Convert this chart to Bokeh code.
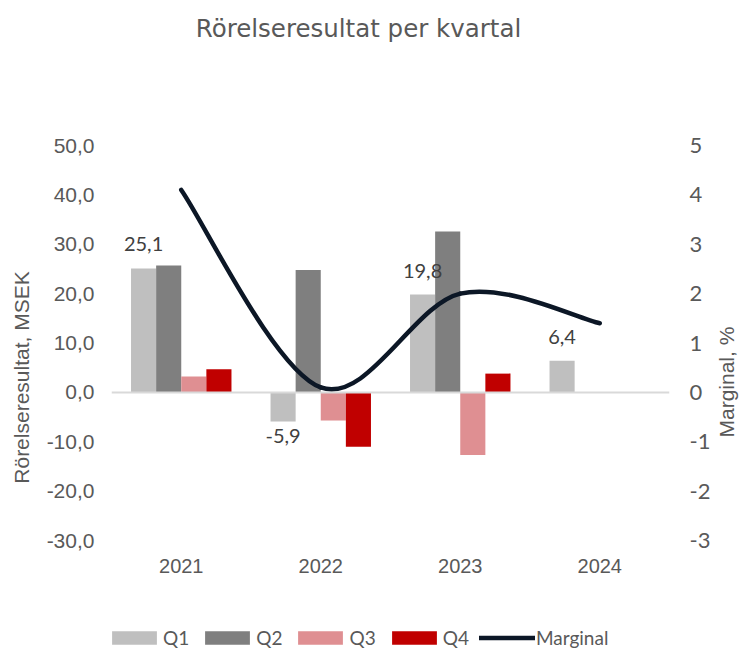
import numpy as np
from bokeh.plotting import figure
from bokeh.models import (Range1d, LinearAxis, FixedTicker, Span, Legend,
                          LegendItem, ColumnDataSource, Label)
from bokeh.core.properties import value
from bokeh.embed import file_html
from bokeh.resources import INLINE

# ---- data ----
years = ["2021", "2022", "2023", "2024"]
quarters = ["Q1", "Q2", "Q3", "Q4"]
q1 = [25.1, -5.9, 19.8, 6.4]
q2 = [25.7, 24.8, 32.6, None]
q3 = [3.2, -5.7, -12.7, None]
q4 = [4.7, -11.0, 3.8, None]
marginal = [4.1, 0.1, 2.0, 1.4]
left_ticks = [-30, -20, -10, 0, 10, 20, 30, 40, 50]
right_ticks = [-3, -2, -1, 0, 1, 2, 3, 4, 5]
labelled = {0: 25.1, 1: -5.9, 2: 19.8, 3: 6.4}  # Q1 data labels

colors = ["#bfbfbf", "#7f7f7f", "#df8f92", "#c00000"]
line_color = "#0c1726"
text_col = "#595959"
NB = "\u00a0"

# ---- layout (pixels) ----
W, H = 744, 649
plot_top, plot_bottom = 145, 540          # where 50 and -30 sit
ppu = (plot_bottom - plot_top) / (left_ticks[-1] - left_ticks[0])
y_lo = left_ticks[0] - (H - plot_bottom) / ppu
y_hi = left_ticks[-1] + plot_top / ppu

p = figure(frame_width=558, frame_height=H, output_backend="svg", toolbar_location=None,
           x_range=Range1d(-0.5, 3.5), y_range=Range1d(y_lo, y_hi),
           min_border_left=111, min_border_right=75, min_border_top=0,
           min_border_bottom=0)
p.outline_line_color = None
p.grid.visible = False
p.background_fill_color = "white"
p.border_fill_color = "white"
p.xaxis.visible = False

# left axis
p.yaxis.ticker = FixedTicker(ticks=left_ticks)
p.yaxis.major_label_overrides = {t: f"{t},0" for t in left_ticks}
p.yaxis.axis_line_color = None
p.yaxis.major_tick_line_color = None
p.yaxis.minor_tick_line_color = None
p.yaxis.major_label_text_color = text_col
p.yaxis.major_label_text_font = "Liberation Sans"
p.yaxis.major_label_text_font_size = "21px"
p.yaxis.major_label_standoff = 11
p.yaxis.axis_label = "Rörelseresultat, MSEK" + NB * 18
p.yaxis.axis_label_text_font = "Liberation Sans"
p.yaxis.axis_label_text_font_size = "21px"
p.yaxis.axis_label_text_font_style = "normal"
p.yaxis.axis_label_text_color = text_col
p.yaxis.axis_label_standoff = 11

# right axis
p.extra_y_ranges = {"r": Range1d(y_lo / 10, y_hi / 10)}
rax = LinearAxis(y_range_name="r", ticker=FixedTicker(ticks=right_ticks),
                 major_label_overrides={t: str(t) for t in right_ticks},
                 axis_line_color=None, major_tick_line_color=None,
                 minor_tick_line_color=None, major_label_text_color=text_col,
                 major_label_text_font="Lato", major_label_text_font_size="22px",
                 major_label_standoff=14)
p.add_layout(rax, "right")

# right axis title, drawn as the single tick label of an outer axis
title_start_px = 437                       # where the rotated title begins
t_val = round((y_hi - title_start_px / ppu) / 10, 3)
tax = LinearAxis(y_range_name="r", ticker=FixedTicker(ticks=[t_val]),
                 major_label_overrides={t_val: "Marginal, %"},
                 axis_line_color=None, major_tick_line_color=None,
                 minor_tick_line_color=None, major_label_text_color=text_col,
                 major_label_text_font="Liberation Sans",
                 major_label_text_font_size="21px", major_label_standoff=7,
                 major_label_orientation=np.pi / 2)
p.add_layout(tax, "right")

# zero line
p.add_layout(Span(location=0, dimension="width", line_color="#d9d9d9", line_width=2))

# category labels under the plot
ysrc = ColumnDataSource(dict(x=list(range(len(years))), t=years,
                             y=[left_ticks[0]] * len(years)))
p.text(x="x", y="y", text="t", source=ysrc, y_offset=25, text_align="center",
       text_baseline="middle", text_font_size="20px", text_color=text_col,
       text_font=value("Liberation Sans"))

# bars
offsets = [-0.27, -0.09, 0.09, 0.27]
series = [q1, q2, q3, q4]
renderers = []
for vals, c, off in zip(series, colors, offsets):
    xs = [i + off for i, v in enumerate(vals) if v is not None]
    ys = [v for v in vals if v is not None]
    r = p.vbar(x=xs, top=ys, bottom=0, width=0.18, fill_color=c, line_color=None)
    renderers.append(r)

# smoothed line (Catmull-Rom style Bezier as in Excel)
xm = np.arange(len(marginal), dtype=float)
ym = np.array(marginal) * 10.0  # right axis maps onto left axis x10
n = len(xm)
def pt(i):
    i = min(max(i, 0), n - 1)
    return xm[i], ym[i]
x0s, y0s, x1s, y1s, cx0s, cy0s, cx1s, cy1s = ([] for _ in range(8))
for i in range(n - 1):
    pa, pb, pc, pd = pt(i - 1), pt(i), pt(i + 1), pt(i + 2)
    x0s.append(pb[0]); y0s.append(pb[1]); x1s.append(pc[0]); y1s.append(pc[1])
    cx0s.append(pb[0] + (pc[0] - pa[0]) / 6); cy0s.append(pb[1] + (pc[1] - pa[1]) / 6)
    cx1s.append(pc[0] - (pd[0] - pb[0]) / 6); cy1s.append(pc[1] - (pd[1] - pb[1]) / 6)
p.bezier(x0=x0s, y0=y0s, x1=x1s, y1=y1s, cx0=cx0s, cy0=cy0s, cx1=cx1s, cy1=cy1s,
         line_color=line_color, line_width=4.5, line_cap="round")
leg_line = p.line(x=[0, 0], y=[0, 0], line_color=line_color, line_width=4.5,
                  line_cap="round", visible=False)

# data labels
lx = [i + offsets[0] for i in labelled]
lv = list(labelled.values())
ltxt = [f"{v:.1f}".replace(".", ",") for v in lv]
loff = [-24 if v >= 0 else 14 for v in lv]
src = ColumnDataSource(dict(x=lx, y=lv, t=ltxt, o=loff))
p.text(x="x", y="y", text="t", y_offset="o", source=src, text_align="center",
       text_baseline="middle", text_font_size="20px", text_color="#404040",
       text_font=value("Lato"))

# title
p.add_layout(Label(x=247, y=H - 28, x_units="screen", y_units="screen",
                   text="Rörelseresultat per kvartal", text_font="DejaVu Sans",
                   text_font_size="24.5px", text_color=text_col, text_align="center",
                   text_baseline="middle"))

# legend
items = [LegendItem(label=q, renderers=[r]) for q, r in zip(quarters, renderers)]
items.append(LegendItem(label="Marginal", renderers=[leg_line]))
legend = Legend(items=items, orientation="horizontal", location=(-5, 0),
                glyph_width=56, glyph_height=17, label_standoff=1, spacing=10,
                padding=0, margin=0, border_line_color=None,
                background_fill_alpha=0, label_text_font="Lato",
                label_text_font_size="19px", label_text_color=text_col)
p.add_layout(legend, "center")

open("out.html", "w").write(file_html(p, INLINE))
